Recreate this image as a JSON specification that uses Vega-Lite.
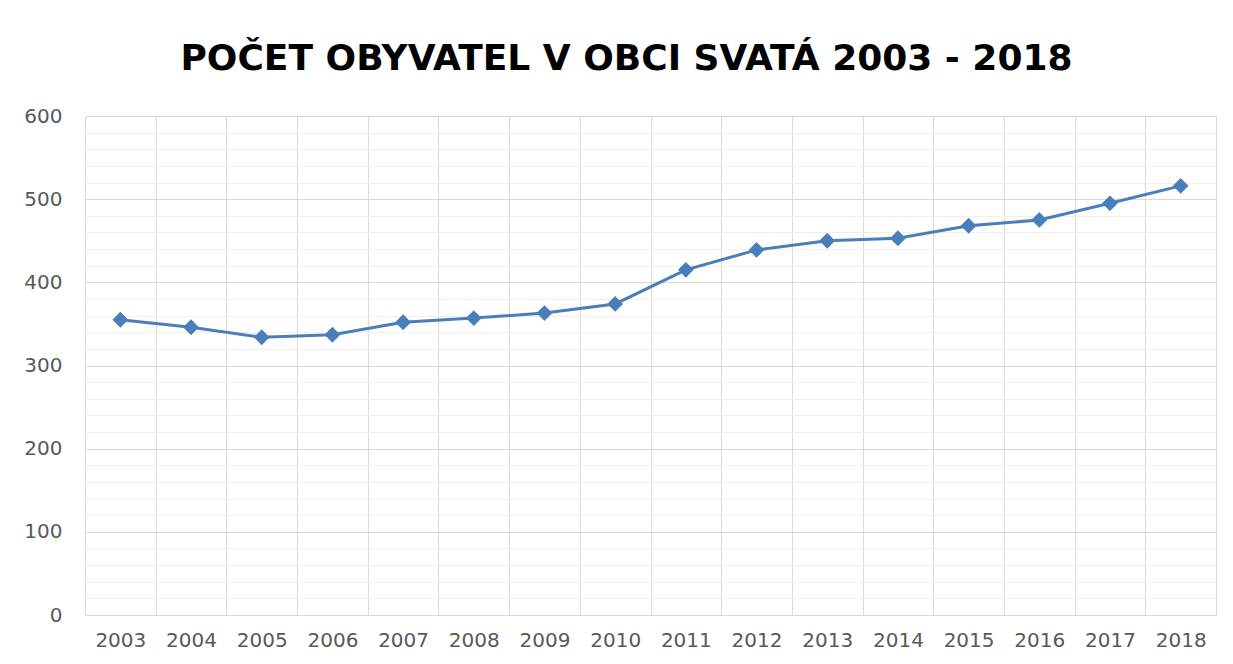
{
  "$schema": "https://vega.github.io/schema/vega-lite/v6.json",
  "autosize": "none",
  "width": 1131,
  "height": 499,
  "padding": {"left": 85, "top": 116, "right": 17, "bottom": 49},
  "background": "white",
  "config": {"view": {"stroke": null}},
  "title": {
    "text": "POČET OBYVATEL V OBCI SVATÁ 2003 - 2018",
    "font": "DejaVu Sans",
    "fontSize": 36,
    "fontWeight": "bold",
    "color": "#000000",
    "anchor": "middle",
    "offset": 28,
    "dx": -24
  },
  "data": {
    "values": [
      {"rok": "2003", "pocet": 355},
      {"rok": "2004", "pocet": 346},
      {"rok": "2005", "pocet": 334},
      {"rok": "2006", "pocet": 337},
      {"rok": "2007", "pocet": 352},
      {"rok": "2008", "pocet": 357},
      {"rok": "2009", "pocet": 363},
      {"rok": "2010", "pocet": 374},
      {"rok": "2011", "pocet": 415},
      {"rok": "2012", "pocet": 439},
      {"rok": "2013", "pocet": 450},
      {"rok": "2014", "pocet": 453},
      {"rok": "2015", "pocet": 468},
      {"rok": "2016", "pocet": 475},
      {"rok": "2017", "pocet": 495},
      {"rok": "2018", "pocet": 516}
    ]
  },
  "encoding": {
    "x": {
      "field": "rok",
      "type": "ordinal",
      "scale": {"type": "band", "paddingInner": 0, "paddingOuter": 0},
      "axis": {
        "title": null,
        "labelAngle": 0,
        "tickBand": "extent",
        "grid": true,
        "gridColor": "#d9d9d9",
        "gridWidth": 1,
        "ticks": false,
        "domain": true,
        "domainColor": "#d9d9d9",
        "labelFont": "DejaVu Sans",
        "labelFontSize": 20,
        "labelColor": "#595959",
        "labelPadding": 15
      }
    },
    "y": {
      "field": "pocet",
      "type": "quantitative",
      "scale": {"domain": [0, 600], "nice": false},
      "axis": {
        "title": null,
        "values": [0, 20, 40, 60, 80, 100, 120, 140, 160, 180, 200, 220, 240, 260, 280, 300, 320, 340, 360, 380, 400, 420, 440, 460, 480, 500, 520, 540, 560, 580, 600],
        "labelExpr": "datum.value % 100 === 0 ? datum.label : ''",
        "grid": true,
        "gridColor": {"condition": {"test": "datum.value % 100 === 0", "value": "#d9d9d9"}, "value": "#efefef"},
        "ticks": false,
        "domain": false,
        "labelFont": "DejaVu Sans",
        "labelFontSize": 20,
        "labelColor": "#595959",
        "labelPadding": 23
      }
    }
  },
  "layer": [
    {
      "mark": {"type": "line", "color": "#4a7ebb", "strokeWidth": 3},
      "encoding": {}
    },
    {
      "mark": {"type": "point", "shape": "diamond", "filled": true, "opacity": 1, "color": "#4a7ebb", "size": 250},
      "encoding": {}
    }
  ]
}
